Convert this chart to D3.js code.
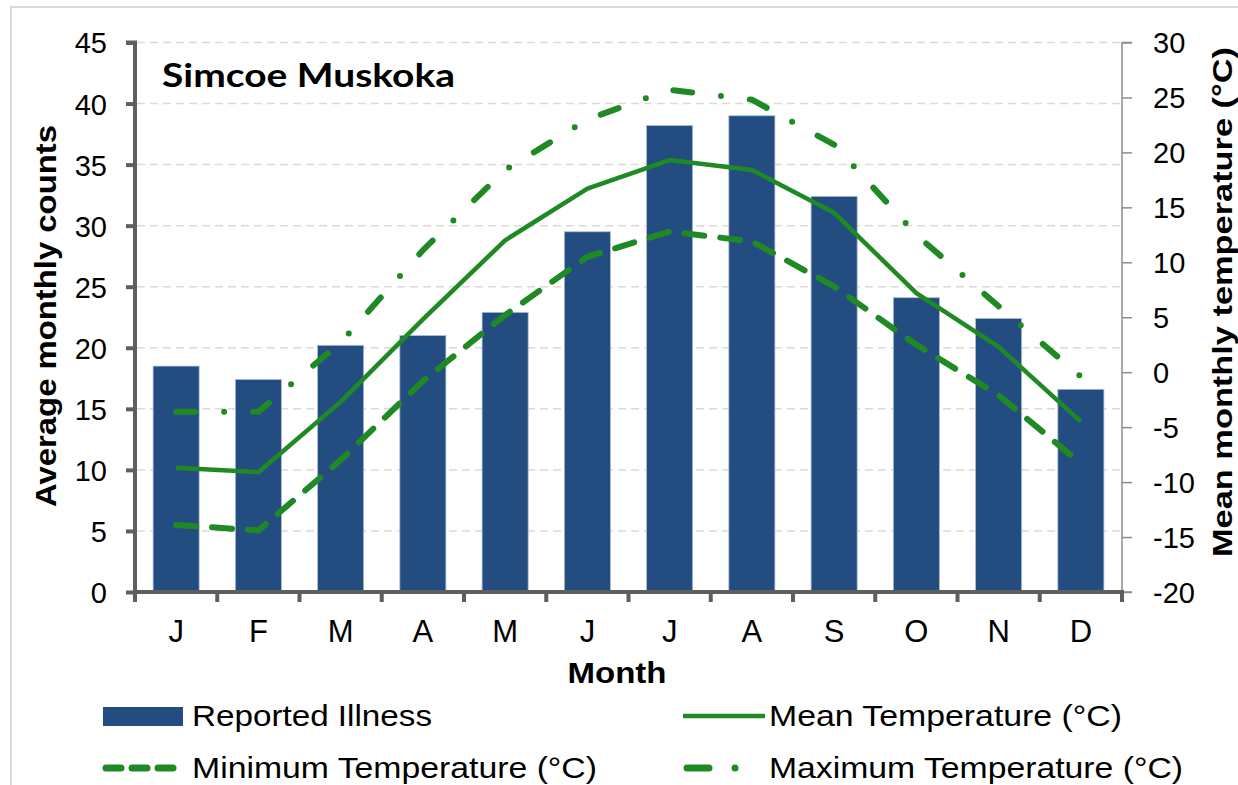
<!DOCTYPE html>
<html>
<head>
<meta charset="utf-8">
<script src="https://cdn.jsdelivr.net/npm/d3@7"></script>
<style>
  html, body { margin: 0; padding: 0; background: #fff; }
  svg { display: block; }
  text { font-family: "Liberation Sans", Arial, sans-serif; fill: #000; }
</style>
</head>
<body>
<svg id="chart" width="1238" height="785"></svg>
<script>
// ---- data ----
const months = ["J","F","M","A","M","J","J","A","S","O","N","D"];
const illness = [18.5, 17.4, 20.2, 21.0, 22.9, 29.5, 38.2, 39.0, 32.4, 24.1, 22.4, 16.6];
const meanTemp = [-8.7, -9.1, -2.7, 4.8, 12.0, 16.7, 19.3, 18.4, 14.5, 7.2, 2.3, -4.5];
const minTemp = [-13.9, -14.4, -8.0, -0.8, 5.2, 10.5, 12.8, 11.9, 7.8, 2.5, -2.1, -8.3];
const maxTemp = [-3.6, -3.6, 2.7, 11.1, 18.4, 23.0, 25.7, 24.8, 20.7, 12.5, 6.0, -0.4];
const leftTicks = [0,5,10,15,20,25,30,35,40,45];
const rightTicks = [-20,-15,-10,-5,0,5,10,15,20,25,30];

const GREEN = "#1f8a24";
const BAR = "#234c81";
const AXIS = "#5f5f5f";

const svg = d3.select("#chart");

// outer border
svg.append("rect").attr("x", 11).attr("y", 7).attr("width", 1240).attr("height", 800)
  .attr("fill", "none").attr("stroke", "#d9d9d9").attr("stroke-width", 2);

const L = 135, R = 1122, T = 42.5, B = 592;
const idx = d3.range(months.length);
const x = d3.scaleBand().domain(idx).range([L, R]).paddingInner(0.44).paddingOuter(0.22);
const xc = i => x(i) + x.bandwidth() / 2;
const yL = d3.scaleLinear().domain([0, 45]).range([B, T]);
const yR = d3.scaleLinear().domain([-20, 30]).range([B, T]);

// gridlines
svg.append("g").selectAll("line").data(leftTicks.filter(d => d > 0)).join("line")
  .attr("x1", L + 2).attr("x2", R).attr("y1", d => yL(d)).attr("y2", d => yL(d))
  .attr("stroke", "#ddd9d5").attr("stroke-width", 1.5).attr("stroke-dasharray", "8 5");

// bars
svg.append("g").selectAll("rect").data(illness).join("rect")
  .attr("x", (d, i) => x(i)).attr("width", x.bandwidth())
  .attr("y", d => yL(d)).attr("height", d => yL(0) - yL(d))
  .attr("fill", BAR).attr("stroke", "#a9bcd6").attr("stroke-width", 0.8);

// lines
const line = d3.line().x((d, i) => xc(i)).y(d => yR(d));
svg.append("path").datum(minTemp).attr("d", line).attr("fill", "none")
  .attr("stroke", GREEN).attr("stroke-width", 6).attr("stroke-linecap", "round")
  .attr("stroke-dasharray", "20 16");
svg.append("path").datum(maxTemp).attr("d", line).attr("fill", "none")
  .attr("stroke", GREEN).attr("stroke-width", 6).attr("stroke-linecap", "round")
  .attr("stroke-dasharray", "19 29 0 29");
svg.append("path").datum(meanTemp).attr("d", line).attr("fill", "none")
  .attr("stroke", GREEN).attr("stroke-width", 4.5).attr("stroke-linejoin", "round");

const fmt = d => String(d);

// left axis
const gL = svg.append("g").attr("transform", `translate(${L},0)`)
  .call(d3.axisLeft(yL).tickValues(leftTicks).tickSize(9).tickPadding(0).tickFormat(fmt));
gL.select(".domain").attr("stroke", AXIS).attr("stroke-width", 4).attr("d", `M-9,${T}H0V${B}`);
gL.selectAll(".tick line").attr("stroke", AXIS).attr("stroke-width", 4);
gL.selectAll(".tick text").attr("x", -28).attr("dy", "0.36em")
  .style("font-size", "29px").style("font-family", "Liberation Sans, Arial, sans-serif").attr("fill", "#000");

// right axis
const gR = svg.append("g").attr("transform", `translate(${R},0)`)
  .call(d3.axisRight(yR).tickValues(rightTicks).tickSize(10).tickPadding(0).tickFormat(fmt));
gR.select(".domain").attr("stroke", "#8c8c8c").attr("stroke-width", 1.5).attr("d", `M10,${T}H0V${B}H10`);
gR.selectAll(".tick line").attr("stroke", "#8c8c8c").attr("stroke-width", 1.5);
gR.selectAll(".tick text").attr("x", 31).attr("dy", "0.36em")
  .style("font-size", "29px").style("font-family", "Liberation Sans, Arial, sans-serif").attr("fill", "#000");

// bottom axis
const gB = svg.append("g").attr("transform", `translate(0,${B})`)
  .call(d3.axisBottom(x).tickSize(0).tickPadding(0).tickFormat(i => months[i]));
gB.select(".domain").attr("stroke", AXIS).attr("stroke-width", 4).attr("d", `M${L - 2},0H${R + 2}`);
gB.selectAll(".tick text").attr("y", 50).attr("dy", 0)
  .style("font-size", "31px").style("font-family", "Liberation Sans, Arial, sans-serif").attr("fill", "#000");
// category separators
svg.append("g").selectAll("line").data(d3.range(months.length + 1)).join("line")
  .attr("x1", i => L + i * x.step()).attr("x2", i => L + i * x.step())
  .attr("y1", B).attr("y2", B + 10).attr("stroke", AXIS).attr("stroke-width", 4);

// titles
svg.append("text").attr("x", 162).attr("y", 87).text("Simcoe Muskoka")
  .style("font-family", "Lato, 'Open Sans', sans-serif").style("font-weight", "bold")
  .style("font-size", "33px").attr("textLength", 293).attr("lengthAdjust", "spacingAndGlyphs");

svg.append("text").attr("transform", "translate(56,316) rotate(-90)").attr("text-anchor", "middle")
  .text("Average monthly counts").style("font-weight", "bold").style("font-size", "29px")
  .attr("textLength", 382).attr("lengthAdjust", "spacingAndGlyphs");

svg.append("text").attr("transform", "translate(1232,302) rotate(-90)").attr("text-anchor", "middle")
  .text("Mean monthly temperature (°C)").style("font-weight", "bold").style("font-size", "28px")
  .attr("textLength", 510).attr("lengthAdjust", "spacingAndGlyphs");

svg.append("text").attr("x", 617).attr("y", 683).attr("text-anchor", "middle")
  .text("Month").style("font-weight", "bold").style("font-size", "29px")
  .attr("textLength", 99).attr("lengthAdjust", "spacingAndGlyphs");

// legend
const leg = svg.append("g");
leg.append("rect").attr("x", 103).attr("y", 707).attr("width", 80).attr("height", 19).attr("fill", BAR);
leg.append("line").attr("x1", 106).attr("x2", 180).attr("y1", 768).attr("y2", 768)
  .attr("stroke", GREEN).attr("stroke-width", 7).attr("stroke-linecap", "round").attr("stroke-dasharray", "15 11");
leg.append("line").attr("x1", 683).attr("x2", 765).attr("y1", 716).attr("y2", 716)
  .attr("stroke", GREEN).attr("stroke-width", 4.5);
leg.append("line").attr("x1", 687).attr("x2", 736).attr("y1", 768).attr("y2", 768)
  .attr("stroke", GREEN).attr("stroke-width", 7).attr("stroke-linecap", "round").attr("stroke-dasharray", "22 26 0 40");

const legendItems = [
  {t: "Reported Illness", x: 192, y: 726, w: 240},
  {t: "Minimum Temperature (°C)", x: 192, y: 778, w: 405},
  {t: "Mean Temperature (°C)", x: 769, y: 726, w: 353},
  {t: "Maximum Temperature (°C)", x: 769, y: 778, w: 414}
];
leg.selectAll("text.li").data(legendItems).join("text").attr("class", "li")
  .attr("x", d => d.x).attr("y", d => d.y).text(d => d.t)
  .style("font-size", "29px").attr("textLength", d => d.w).attr("lengthAdjust", "spacingAndGlyphs");
</script>
</body>
</html>
